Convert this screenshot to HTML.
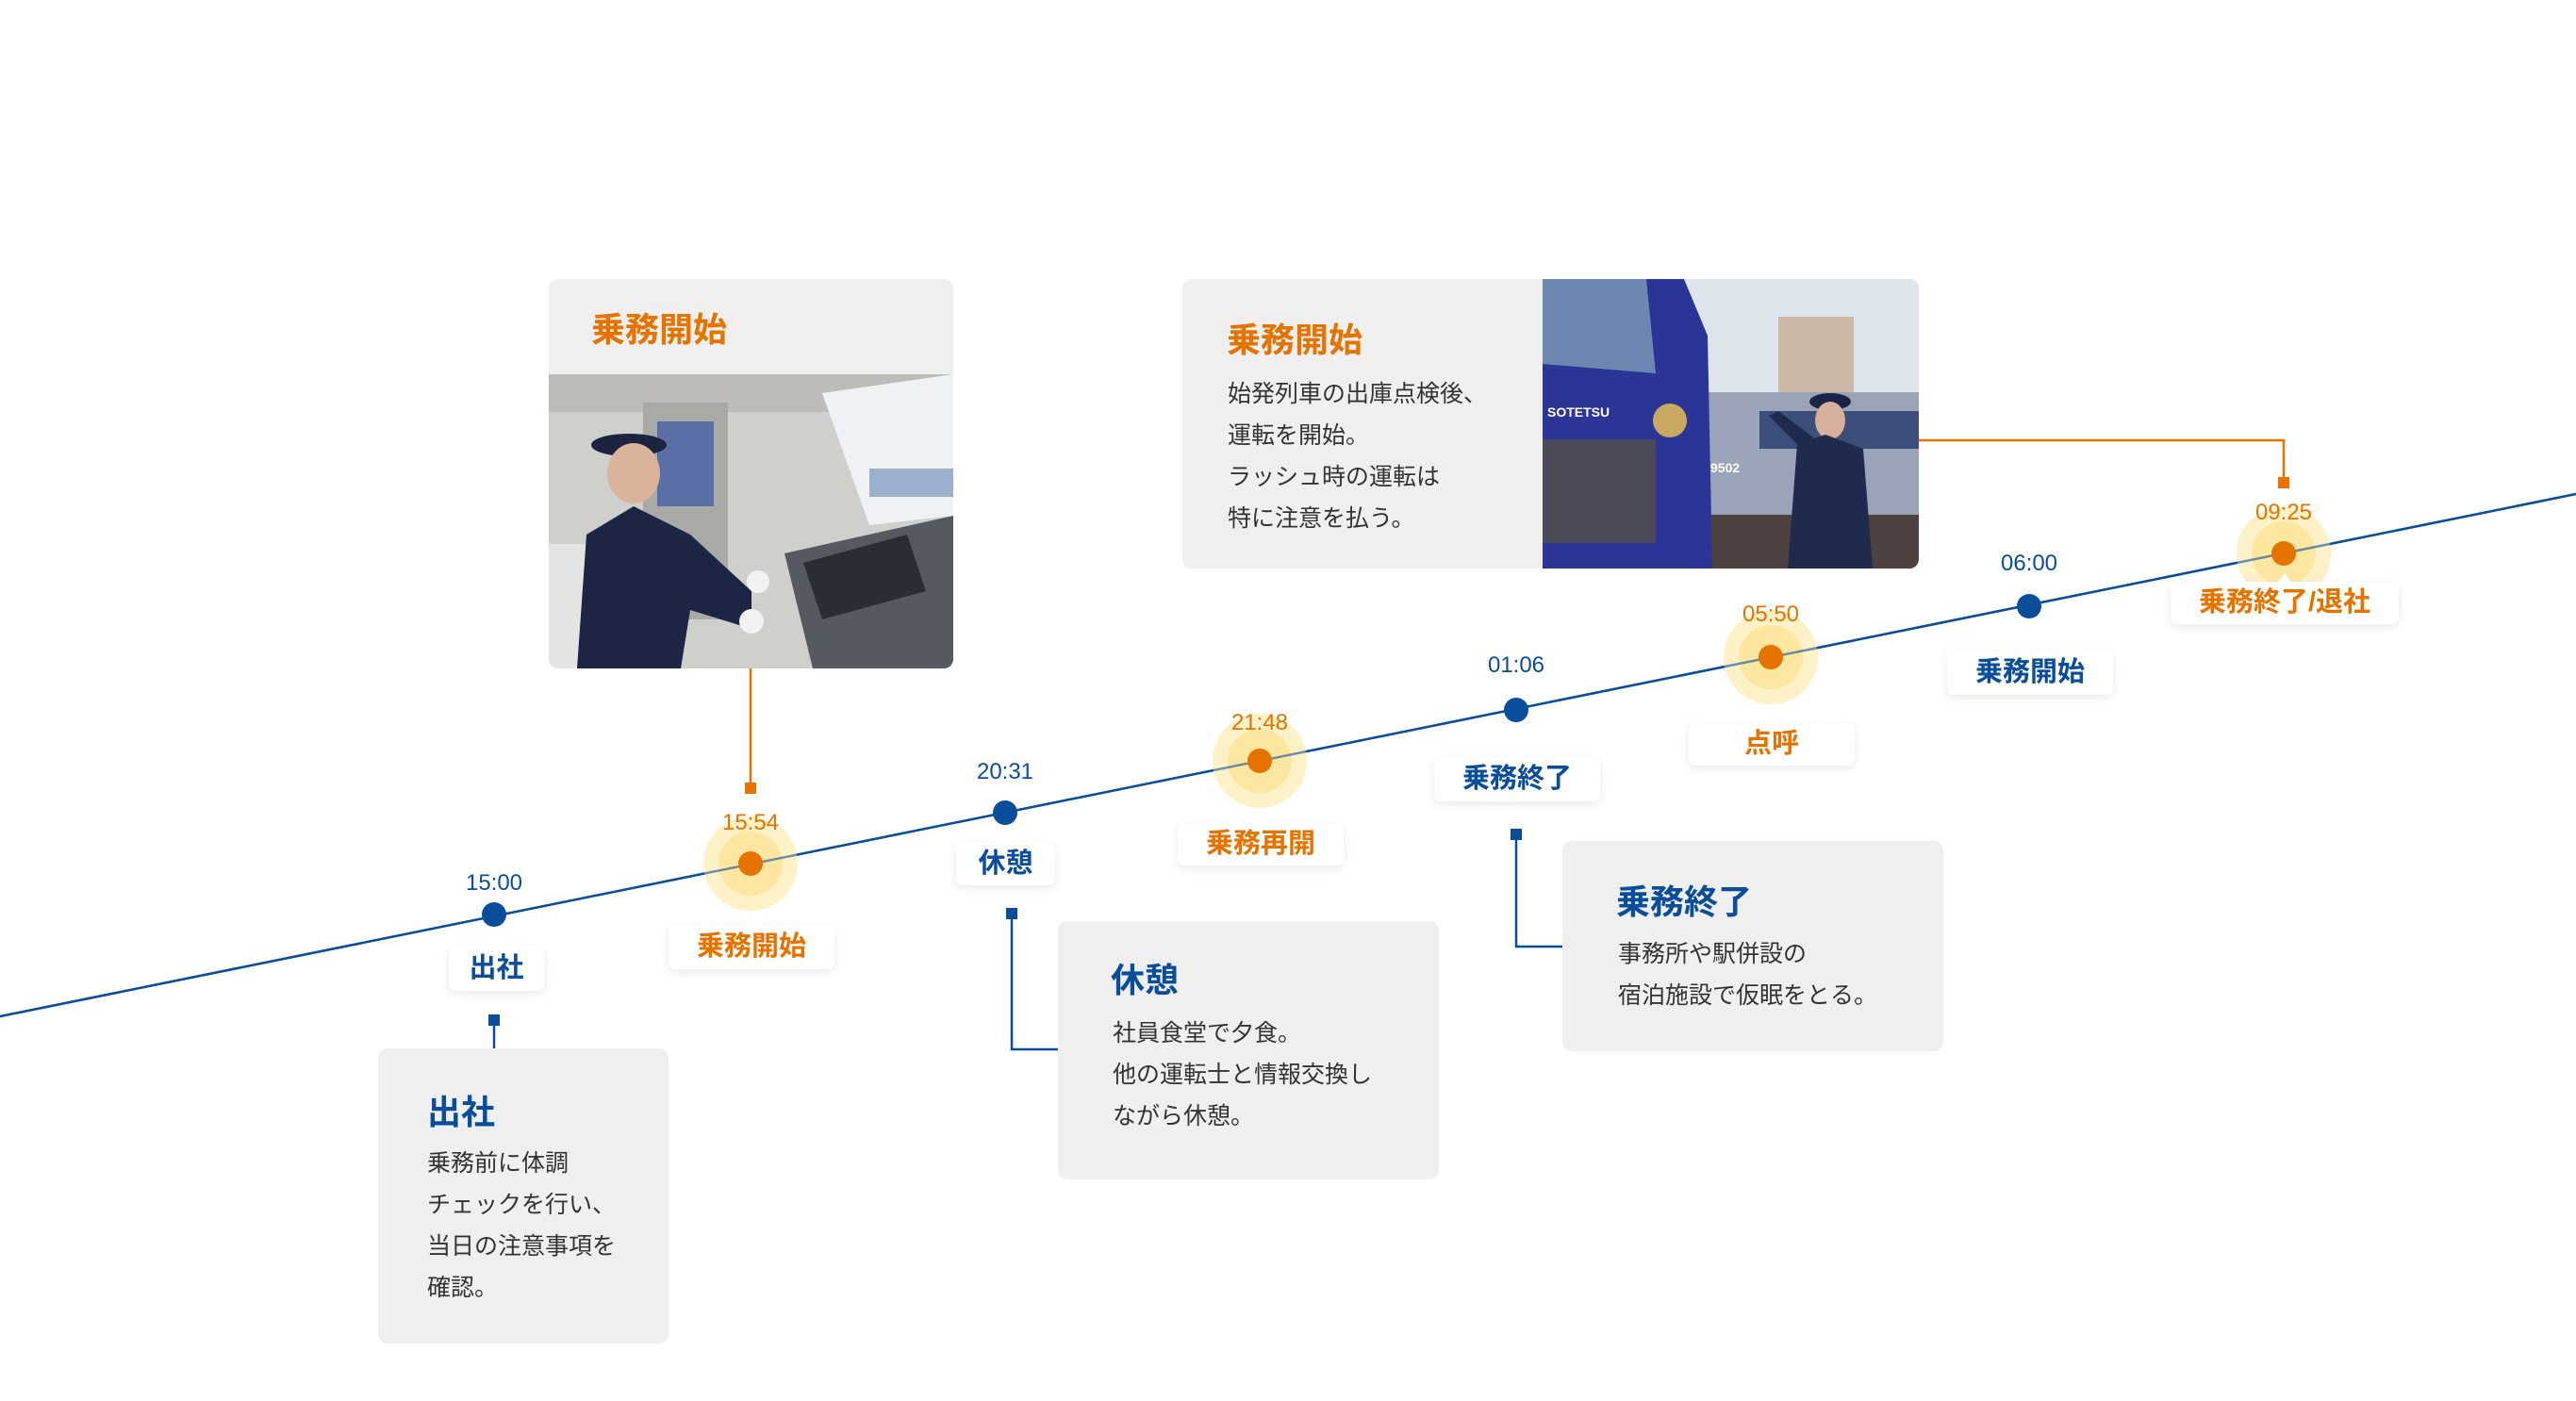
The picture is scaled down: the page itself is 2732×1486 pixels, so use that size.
<!DOCTYPE html>
<html><head><meta charset="utf-8">
<style>
*{margin:0;padding:0;box-sizing:border-box}
body{width:2732px;height:1486px;background:#fff;position:relative;overflow:hidden;font-family:"Liberation Sans","Noto Sans CJK JP",sans-serif}
.a{position:absolute}
.card{position:absolute;background:#efefef;border-radius:10px}
.t{position:absolute;font-size:36px;font-weight:bold;line-height:44px;white-space:nowrap}
.b{position:absolute;font-size:25px;color:#333;line-height:44px;white-space:nowrap}
.lb{position:absolute;background:#fff;border-radius:7px;box-shadow:0 3px 10px rgba(0,0,0,.09);font-size:29px;font-weight:bold;text-align:center;white-space:nowrap}
.lb:before{content:"";position:absolute;left:50%;top:-9px;margin-left:-7px;border-left:7px solid transparent;border-right:7px solid transparent;border-bottom:9px solid #fff}
.tm{position:absolute;font-size:24px;width:120px;text-align:center;line-height:30px}
.bl{color:#0a4e9b}.or{color:#e67300}
</style></head><body>
<svg class="a" style="left:0;top:0" width="2732" height="1486">
<line x1="0" y1="1078" x2="2732" y2="524" stroke="#0a4e9b" stroke-width="2.5"/>
<g fill="#fdf1c8"><circle cx="796" cy="916" r="50"/><circle cx="1336" cy="807" r="50"/><circle cx="1878" cy="697" r="50"/><circle cx="2422" cy="587" r="50"/></g>
<g fill="#fde6a0"><circle cx="796" cy="916" r="34"/><circle cx="1336" cy="807" r="34"/><circle cx="1878" cy="697" r="34"/><circle cx="2422" cy="587" r="34"/></g>
<line x1="0" y1="1078" x2="2732" y2="524" stroke="#0a4e9b" stroke-width="2.5" opacity=".6"/>
<g fill="#e67300"><circle cx="796" cy="916" r="13"/><circle cx="1336" cy="807" r="13"/><circle cx="1878" cy="697" r="13"/><circle cx="2422" cy="587" r="13"/></g>
<g fill="#0a4e9b"><circle cx="524" cy="970" r="13"/><circle cx="1066" cy="862" r="13"/><circle cx="1608" cy="753" r="13"/><circle cx="2152" cy="643" r="13"/></g>
<!-- connectors -->
<g stroke="#0a4e9b" stroke-width="2.5" fill="none">
<line x1="524" y1="1082" x2="524" y2="1112"/>
<polyline points="1073,969 1073,1113 1122,1113"/>
<polyline points="1608,885 1608,1004 1657,1004"/>
</g>
<g fill="#0a4e9b"><rect x="518" y="1076" width="12" height="12"/><rect x="1067" y="963" width="12" height="12"/><rect x="1602" y="879" width="12" height="12"/></g>
<g stroke="#e67300" stroke-width="2.5" fill="none">
<line x1="796" y1="709" x2="796" y2="836"/>
<polyline points="2035,467 2422,467 2422,512"/>
</g>
<g fill="#e67300"><rect x="790" y="830" width="12" height="12"/><rect x="2416" y="506" width="12" height="12"/></g>
</svg>

<!-- time labels -->
<div class="tm bl" style="left:464px;top:922px">15:00</div>
<div class="tm or" style="left:736px;top:858px">15:54</div>
<div class="tm bl" style="left:1006px;top:804px">20:31</div>
<div class="tm or" style="left:1276px;top:752px">21:48</div>
<div class="tm bl" style="left:1548px;top:691px">01:06</div>
<div class="tm or" style="left:1818px;top:637px">05:50</div>
<div class="tm bl" style="left:2092px;top:583px">06:00</div>
<div class="tm or" style="left:2362px;top:529px">09:25</div>

<!-- node labels -->
<div class="lb bl" style="left:476px;top:1004px;width:101px;height:47px;line-height:47px">出社</div>
<div class="lb or" style="left:709px;top:981px;width:176px;height:47px;line-height:47px">乗務開始</div>
<div class="lb bl" style="left:1014px;top:894px;width:105px;height:45px;line-height:45px">休憩</div>
<div class="lb or" style="left:1249px;top:873px;width:176px;height:45px;line-height:45px">乗務再開</div>
<div class="lb bl" style="left:1521px;top:803px;width:176px;height:47px;line-height:47px">乗務終了</div>
<div class="lb or" style="left:1791px;top:767px;width:176px;height:45px;line-height:45px">点呼</div>
<div class="lb bl" style="left:2065px;top:690px;width:176px;height:47px;line-height:47px">乗務開始</div>
<div class="lb or" style="left:2302px;top:617px;width:242px;height:45px;line-height:45px">乗務終了/退社</div>

<!-- 出社 card -->
<div class="card" style="left:401px;top:1112px;width:308px;height:313px"></div>
<div class="t bl" style="left:453px;top:1158px">出社</div>
<div class="b" style="left:453px;top:1212px">乗務前に体調<br>チェックを行い、<br>当日の注意事項を<br>確認。</div>

<!-- 休憩 card -->
<div class="card" style="left:1122px;top:977px;width:404px;height:274px"></div>
<div class="t bl" style="left:1178px;top:1018px">休憩</div>
<div class="b" style="left:1180px;top:1074px">社員食堂で夕食。<br>他の運転士と情報交換し<br>ながら休憩。</div>

<!-- 乗務終了 card -->
<div class="card" style="left:1657px;top:892px;width:404px;height:223px"></div>
<div class="t bl" style="left:1714px;top:935px">乗務終了</div>
<div class="b" style="left:1716px;top:990px">事務所や駅併設の<br>宿泊施設で仮眠をとる。</div>

<!-- photo card 1 -->
<div class="card" style="left:582px;top:296px;width:429px;height:413px;overflow:hidden">
<svg class="a" style="left:0;top:101px" width="429" height="312">
<rect width="429" height="312" fill="#cfcfcc"/>
<rect x="0" y="0" width="429" height="40" fill="#bdbcb8"/>
<polygon points="290,20 429,0 429,150 340,160" fill="#eef2f5"/>
<rect x="340" y="100" width="89" height="30" fill="#9ab0cc"/>
<rect x="100" y="30" width="90" height="230" fill="#a9a9a6"/>
<rect x="115" y="50" width="60" height="90" fill="#5a6fa5"/>
<polygon points="250,190 429,150 429,312 280,312" fill="#555a60"/>
<polygon points="270,200 380,170 400,230 290,260" fill="#2a2d33"/>
<rect x="0" y="180" width="40" height="132" fill="#e4e4e2"/>
<ellipse cx="85" cy="75" rx="40" ry="12" fill="#1c2440"/>
<ellipse cx="90" cy="105" rx="28" ry="32" fill="#d9b39a"/>
<polygon points="30,312 40,170 90,140 150,170 215,230 215,270 150,250 140,312" fill="#1d2545"/>
<circle cx="222" cy="220" r="12" fill="#f2f2f2"/><circle cx="215" cy="262" r="13" fill="#f2f2f2"/>
</svg>
</div>
<div class="t or" style="left:627px;top:328px">乗務開始</div>

<!-- big card -->
<div class="card" style="left:1254px;top:296px;width:781px;height:307px;overflow:hidden">
<svg class="a" style="left:382px;top:0" width="399" height="307">
<rect width="399" height="307" fill="#dde4ec"/>
<rect x="250" y="40" width="80" height="130" fill="#c9b9a6"/>
<rect x="170" y="120" width="229" height="150" fill="#9aa4b8"/>
<rect x="230" y="140" width="169" height="40" fill="#3b4f7a"/>
<rect x="0" y="250" width="399" height="57" fill="#4d4240"/>
<polygon points="0,0 150,0 175,60 180,307 0,307" fill="#2b3596"/>
<polygon points="0,0 110,0 120,100 0,90" fill="#6d88b0"/>
<rect x="0" y="170" width="120" height="110" fill="#4a4a58"/>
<circle cx="135" cy="150" r="18" fill="#c9a860"/>
<text x="5" y="146" font-size="14" font-weight="bold" fill="#fff" font-family="Liberation Sans,sans-serif">SOTETSU</text>
<text x="178" y="205" font-size="14" font-weight="bold" fill="#fff" font-family="Liberation Sans,sans-serif">9502</text>
<ellipse cx="305" cy="130" rx="22" ry="9" fill="#1b2446"/>
<ellipse cx="305" cy="150" rx="16" ry="20" fill="#d6b09a"/>
<polygon points="260,307 270,175 300,165 340,180 350,307" fill="#1e2a4e"/>
<polygon points="275,180 240,145 250,140 290,170" fill="#1e2a4e"/>
</svg>
</div>
<div class="t or" style="left:1301px;top:339px">乗務開始</div>
<div class="b" style="left:1302px;top:396px">始発列車の出庫点検後、<br>運転を開始。<br>ラッシュ時の運転は<br>特に注意を払う。</div>
</body></html>
